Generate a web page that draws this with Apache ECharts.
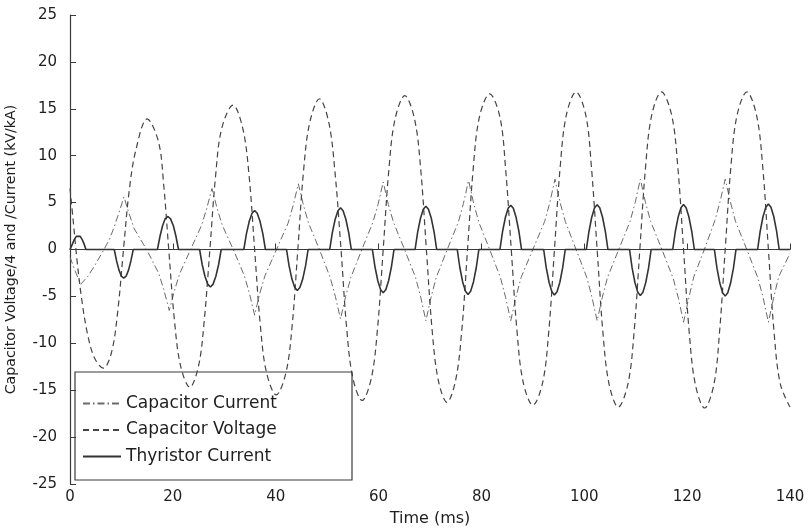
<!DOCTYPE html>
<html>
<head>
<meta charset="utf-8">
<script src="https://cdn.jsdelivr.net/npm/echarts@6/dist/echarts.min.js"></script>
<style>
html,body{margin:0;padding:0;background:#fff;}
#chart{width:809px;height:529px;}
</style>
</head>
<body>
<div id="chart"></div>
<script>
// ---- data (t in ms, value in kV/kA) ----
const seriesNames = ['Capacitor Current', 'Capacitor Voltage', 'Thyristor Current'];
const xTickValues = [0, 20, 40, 60, 80, 100, 120, 140];
const yTickValues = [-25, -20, -15, -10, -5, 0, 5, 10, 15, 20, 25];
const xAxisTitle = 'Time (ms)';
const yAxisTitle = 'Capacitor Voltage/4 and /Current (kV/kA)';

const capacitorCurrent = [
  [0,-0.8],[1.0,-2.3],[2.1,-3.7],[3.4,-2.9],[4.6,-1.9],[6.3,-0.3],[7.6,1.0],[8.6,2.4],[9.5,3.9],[10.5,5.6],
  [11.5,3.8],[12.5,2.2],[14.9,0],[17.3,-2.6],[18.3,-4.4],[19.3,-6.5],
  [20.3,-4.4],[21.3,-2.6],[23.45,0],[25.6,2.6],[26.6,4.4],[27.6,6.5],
  [28.6,4.4],[29.6,2.6],[31.75,0],[33.9,-2.8],[34.9,-4.7],[35.9,-7.0],
  [36.9,-4.7],[37.9,-2.8],[40.15,0],[42.4,2.8],[43.4,4.7],[44.4,7.0],
  [45.4,4.7],[46.4,2.8],[48.5,0],[50.6,-3.0],[51.6,-5.0],[52.6,-7.4],
  [53.6,-5.0],[54.6,-3.0],[56.75,0],[58.9,2.9],[59.9,4.8],[60.9,7.2],
  [61.9,4.8],[62.9,2.9],[65.05,0],[67.2,-3.0],[68.2,-5.1],[69.2,-7.6],
  [70.2,-5.1],[71.2,-3.0],[73.35,0],[75.5,2.9],[76.5,4.9],[77.5,7.35],
  [78.5,4.9],[79.5,2.9],[81.6,0],[83.7,-3.0],[84.7,-5.1],[85.7,-7.6],
  [86.7,-5.1],[87.7,-3.0],[90.0,0],[92.3,3.0],[93.3,5.0],[94.3,7.5],
  [95.3,5.0],[96.3,3.0],[98.4,0],[100.5,-3.0],[101.5,-5.1],[102.5,-7.6],
  [103.5,-5.1],[104.5,-3.0],[106.7,0],[108.9,3.0],[109.9,5.0],[110.9,7.5],
  [111.9,5.0],[112.9,3.0],[115.1,0],[117.3,-3.1],[118.3,-5.2],[119.3,-7.75],
  [120.3,-5.2],[121.3,-2.9],[123.35,0],[125.4,3.1],[126.4,5.1],[127.4,7.5],
  [128.4,5.1],[129.4,3.0],[131.6,0],[133.8,-3.1],[134.8,-5.2],[135.8,-7.75],
  [136.8,-5.2],[137.8,-2.9],[140,-0.4]
];

const capacitorVoltage = [
  [0,6.5],[0.6,3.2],[1.3,-0.8],[2.2,-5.0],[3.4,-9.0],[4.8,-11.6],[6.5,-12.65],
  [8.1,-10.9],[9.3,-6.5],[10.4,0],[11.5,6.2],[12.8,10.6],[15.0,13.93],
  [17.2,11.5],[18.2,7.0],[19.2,0],[20.3,-7.5],[21.5,-12.4],[23.3,-14.7],
  [25.0,-12.4],[26.1,-7.6],[27.2,0],[28.3,7.8],[29.5,12.9],[31.7,15.4],
  [33.6,12.9],[34.8,8.0],[35.9,0],[37.0,-8.0],[38.2,-13.1],[40.1,-15.5],
  [42.0,-13.1],[43.2,-8.1],[44.3,0],[45.4,8.3],[46.6,13.5],[48.5,16.07],
  [50.3,13.6],[51.5,8.4],[52.7,0],[53.8,-8.4],[55.0,-13.7],[56.8,-16.1],
  [58.6,-13.7],[59.8,-8.4],[60.9,0],[62.0,8.5],[63.2,13.9],[65.1,16.4],
  [67.0,13.9],[68.2,8.5],[69.3,0],[70.4,-8.5],[71.6,-13.9],[73.3,-16.3],
  [75.0,-13.9],[76.2,-8.5],[77.3,0],[78.4,8.6],[79.6,14.1],[81.6,16.6],
  [83.6,14.1],[84.7,8.6],[85.8,0],[86.9,-8.6],[88.1,-14.1],[90.0,-16.6],
  [91.9,-14.2],[93.1,-8.7],[94.2,0],[95.3,8.7],[96.5,14.3],[98.4,16.8],
  [100.3,14.3],[101.4,8.7],[102.5,0],[103.6,-8.7],[104.8,-14.3],[106.6,-16.8],
  [108.5,-14.3],[109.7,-8.7],[110.8,0],[111.9,8.7],[113.1,14.3],[115.0,16.8],
  [117.0,14.3],[118.2,8.7],[119.3,0],[120.4,-8.8],[121.6,-14.4],[123.4,-16.9],
  [125.2,-14.4],[126.3,-8.8],[127.4,0],[128.5,8.8],[129.7,14.3],[131.6,16.8],
  [133.5,14.3],[134.7,8.8],[135.8,0],[136.9,-8.8],[138.1,-14.3],[140.0,-16.8]
];

const thyristorCurrent = [
  [0,0],[0.1,0],[0.48,0.6],[0.85,1.08],[1.23,1.4],[1.6,1.5],[1.98,1.4],[2.35,1.08],[2.73,0.6],[3.1,0],
  [8.6,0],[9.06,-1.22],[9.53,-2.2],[9.99,-2.85],[10.45,-3.06],[10.91,-2.85],[11.38,-2.2],[11.84,-1.22],[12.3,0],
  [17.0,0],[17.5,1.41],[18.0,2.53],[18.5,3.27],[19.05,3.52],[19.55,3.27],[20.1,2.53],[20.6,1.41],[21.1,0],
  [25.2,0],[25.7,-1.6],[26.25,-2.88],[26.8,-3.72],[27.3,-4.0],[27.8,-3.72],[28.35,-2.88],[28.9,-1.6],[29.4,0],
  [33.8,0],[34.3,1.66],[34.85,3.0],[35.4,3.87],[35.9,4.16],[36.4,3.87],[36.95,3.0],[37.5,1.66],[38.0,0],
  [42.1,0],[42.6,-1.75],[43.15,-3.15],[43.7,-4.06],[44.2,-4.37],[44.7,-4.06],[45.25,-3.15],[45.8,-1.75],[46.3,0],
  [50.5,0],[51.0,1.78],[51.55,3.2],[52.1,4.14],[52.6,4.45],[53.1,4.14],[53.65,3.2],[54.2,1.78],[54.7,0],
  [58.8,0],[59.3,-1.85],[59.85,-3.33],[60.4,-4.3],[60.9,-4.62],[61.4,-4.3],[61.95,-3.33],[62.5,-1.85],[63.0,0],
  [67.1,0],[67.6,1.85],[68.15,3.33],[68.7,4.3],[69.2,4.62],[69.7,4.3],[70.25,3.33],[70.8,1.85],[71.3,0],
  [75.3,0],[75.8,-1.92],[76.35,-3.46],[76.9,-4.46],[77.4,-4.8],[77.9,-4.46],[78.45,-3.46],[79.0,-1.92],[79.5,0],
  [83.6,0],[84.1,1.89],[84.65,3.4],[85.2,4.39],[85.7,4.72],[86.2,4.39],[86.75,3.4],[87.3,1.89],[87.8,0],
  [92.1,0],[92.6,-1.94],[93.15,-3.49],[93.7,-4.51],[94.2,-4.85],[94.7,-4.51],[95.25,-3.49],[95.8,-1.94],[96.3,0],
  [100.4,0],[100.9,1.91],[101.45,3.44],[102.0,4.45],[102.5,4.78],[103.0,4.45],[103.55,3.44],[104.1,1.91],[104.6,0],
  [108.8,0],[109.3,-1.96],[109.85,-3.53],[110.4,-4.56],[110.9,-4.9],[111.4,-4.56],[111.95,-3.53],[112.5,-1.96],[113.0,0],
  [117.2,0],[117.7,1.92],[118.25,3.46],[118.8,4.46],[119.3,4.8],[119.8,4.46],[120.35,3.46],[120.9,1.92],[121.4,0],
  [125.3,0],[125.8,-1.99],[126.35,-3.58],[126.9,-4.62],[127.4,-4.97],[127.9,-4.62],[128.45,-3.58],[129.0,-1.99],[129.5,0],
  [133.7,0],[134.2,1.94],[134.75,3.49],[135.3,4.51],[135.8,4.85],[136.3,4.51],[136.85,3.49],[137.4,1.94],[137.9,0],
  [140,0]
];

// ---- chart ----
const FONT = 'DejaVu Sans';
const chart = echarts.init(document.getElementById('chart'), null, {renderer: 'canvas'});
const axisColor = '#3a3a3a';
const textColor = '#1e1e1e';

chart.setOption({
  animation: false,
  backgroundColor: '#fff',
  grid: {left: 70, right: 19, top: 15, bottom: 45, containLabel: false, outerBoundsMode: 'none'},
  xAxis: {
    type: 'value',
    min: xTickValues[0], max: xTickValues[xTickValues.length - 1],
    interval: xTickValues[1] - xTickValues[0],
    name: xAxisTitle, nameLocation: 'middle', nameGap: 27,
    nameTextStyle: {fontFamily: FONT, fontSize: 16, color: textColor},
    axisLine: {show: true, lineStyle: {color: axisColor, width: 1.2}},
    axisTick: {show: true, inside: true, length: 6, lineStyle: {color: axisColor}},
    axisLabel: {fontFamily: FONT, fontSize: 15, color: textColor, margin: 6},
    splitLine: {show: false}
  },
  yAxis: {
    type: 'value',
    min: yTickValues[0], max: yTickValues[yTickValues.length - 1],
    interval: yTickValues[1] - yTickValues[0],
    name: yAxisTitle, nameLocation: 'middle', nameGap: 52,
    nameTextStyle: {fontFamily: FONT, fontSize: 14.2, color: textColor},
    axisLine: {show: true, lineStyle: {color: axisColor, width: 1.2}},
    axisTick: {show: true, inside: true, length: 6, lineStyle: {color: axisColor}},
    axisLabel: {fontFamily: FONT, fontSize: 15, color: textColor, margin: 13},
    splitLine: {show: false}
  },
  legend: {
    orient: 'vertical',
    left: 75, top: 372,
    padding: [23, 10, 14, 7],
    itemGap: 9.5,
    itemWidth: 38, itemHeight: 14,
    backgroundColor: 'transparent',
    borderWidth: 0,
    itemStyle: {opacity: 0, color: 'transparent', borderWidth: 0},
    textStyle: {fontFamily: FONT, fontSize: 17, color: textColor},
    data: seriesNames
  },
  graphic: [{
    type: 'rect', silent: true, z: 100,
    shape: {x: 75, y: 372, width: 277, height: 108},
    style: {fill: 'none', stroke: '#3a3a3a', lineWidth: 1.2}
  }],
  series: [
    {
      name: seriesNames[0], type: 'line', data: capacitorCurrent,
      symbol: 'none', smooth: false,
      lineStyle: {color: '#6a6a6a', width: 1.0, type: [7, 3, 1.5, 3]},
      itemStyle: {color: '#6a6a6a'}
    },
    {
      name: seriesNames[1], type: 'line', data: capacitorVoltage,
      symbol: 'none', smooth: 0.35,
      lineStyle: {color: '#444', width: 1.2, type: [6, 4]},
      itemStyle: {color: '#444'}
    },
    {
      name: seriesNames[2], type: 'line', data: thyristorCurrent,
      symbol: 'none', smooth: false,
      lineStyle: {color: '#333', width: 1.6, type: 'solid'},
      itemStyle: {color: '#333'}
    }
  ]
});
</script>
</body>
</html>
